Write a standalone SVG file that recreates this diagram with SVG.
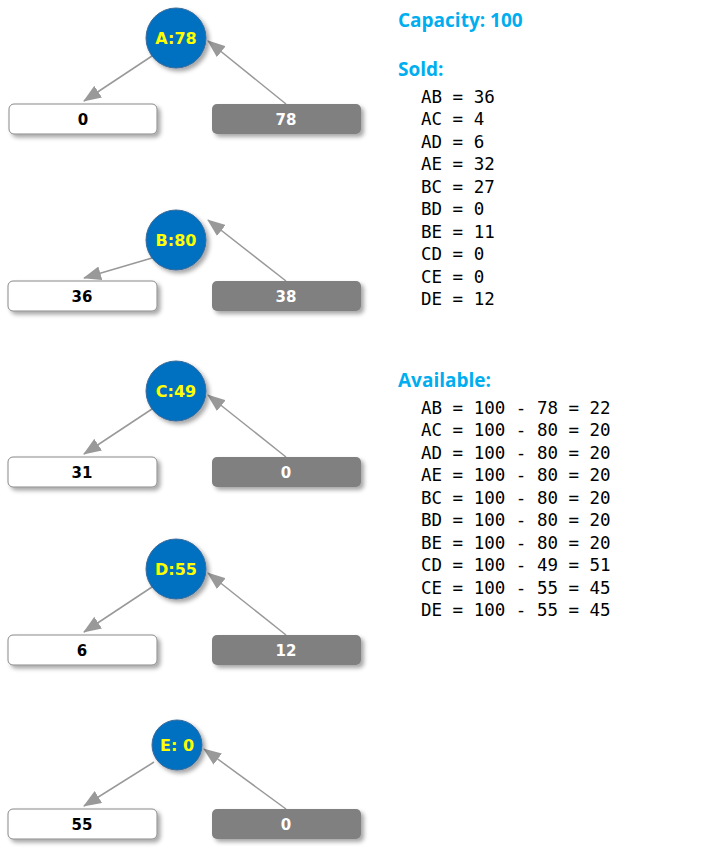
<svg xmlns="http://www.w3.org/2000/svg" width="724" height="853" viewBox="0 0 724 853">
<defs>
<filter id="sh" x="-20%" y="-20%" width="150%" height="160%"><feDropShadow dx="3" dy="3" stdDeviation="2" flood-color="#000" flood-opacity="0.35"/></filter>
<marker id="ar" markerWidth="10" markerHeight="10" refX="9" refY="5" orient="auto" markerUnits="userSpaceOnUse" viewBox="0 0 10 10"><path d="M0,0 L10,5 L0,10 z" fill="#999"/></marker>
<marker id="ab" markerWidth="18" markerHeight="14" refX="17" refY="7" orient="auto" markerUnits="userSpaceOnUse" viewBox="0 0 18 14"><path d="M0,0 L18,7 L0,14 z" fill="#999"/></marker>
</defs>
<style>
.c{fill:#0070c0;stroke:#3a6a9a;stroke-width:1;filter:url(#sh)}
.ct{font:bold 16px "DejaVu Sans",sans-serif;fill:#ffff00;text-anchor:middle}
.w{fill:#fff;stroke:#888;stroke-width:1;filter:url(#sh)}
.g{fill:#808080;filter:url(#sh)}
.bt{font:bold 15px "DejaVu Sans",sans-serif;text-anchor:middle}
.h{font:bold 19px "Open Sans","DejaVu Sans",sans-serif;fill:#00aeef}
.m{font:17.5px "DejaVu Sans Mono",monospace;fill:#000;white-space:pre}
.e{stroke:#999;stroke-width:1.5;fill:none;marker-end:url(#ab)}
</style>
<g id="connectors">
<line class="e" x1="152" y1="56" x2="84" y2="101"/><line class="e" x1="286" y1="104" x2="208" y2="41"/>
<line class="e" x1="152" y1="258" x2="84" y2="278"/><line class="e" x1="286" y1="281" x2="208" y2="220"/>
<line class="e" x1="152" y1="409" x2="84" y2="454"/><line class="e" x1="286" y1="457" x2="208" y2="395"/>
<line class="e" x1="152" y1="587" x2="84" y2="632"/><line class="e" x1="286" y1="635" x2="208" y2="573"/>
<line class="e" x1="154" y1="762" x2="84" y2="806"/><line class="e" x1="286" y1="809" x2="204" y2="749"/>
</g>
<g id="A"><circle class="c" cx="176" cy="38" r="30"/><text class="ct" x="176" y="44">A:78</text></g>
<g id="A0"><rect class="w" x="9" y="104" width="148" height="30" rx="5"/><text class="bt" x="83" y="125">0</text></g>
<g id="A1"><rect class="g" x="212" y="104" width="149" height="30" rx="5"/><text class="bt" x="286" y="125" fill="#fff">78</text></g>
<g id="B"><circle class="c" cx="176" cy="240" r="30"/><text class="ct" x="176" y="246">B:80</text></g>
<g id="B0"><rect class="w" x="8" y="281" width="149" height="30" rx="5"/><text class="bt" x="82" y="302">36</text></g>
<g id="B1"><rect class="g" x="212" y="281" width="149" height="30" rx="5"/><text class="bt" x="286" y="302" fill="#fff">38</text></g>
<g id="C"><circle class="c" cx="176" cy="391" r="30"/><text class="ct" x="176" y="397">C:49</text></g>
<g id="C0"><rect class="w" x="8" y="457" width="149" height="30" rx="5"/><text class="bt" x="82" y="478">31</text></g>
<g id="C1"><rect class="g" x="212" y="457" width="149" height="30" rx="5"/><text class="bt" x="286" y="478" fill="#fff">0</text></g>
<g id="D"><circle class="c" cx="176" cy="569" r="30"/><text class="ct" x="176" y="575">D:55</text></g>
<g id="D0"><rect class="w" x="8" y="635" width="149" height="30" rx="5"/><text class="bt" x="82" y="656">6</text></g>
<g id="D1"><rect class="g" x="212" y="635" width="149" height="30" rx="5"/><text class="bt" x="286" y="656" fill="#fff">12</text></g>
<g id="E"><circle class="c" cx="177" cy="745" r="25"/><text class="ct" x="177" y="751">E: 0</text></g>
<g id="E0"><rect class="w" x="8" y="809" width="149" height="30" rx="5"/><text class="bt" x="82" y="830">55</text></g>
<g id="E1"><rect class="g" x="212" y="809" width="149" height="30" rx="5"/><text class="bt" x="286" y="830" fill="#fff">0</text></g>
<g id="text">
<text class="h" x="398" y="27">Capacity: 100</text>
<text class="h" x="398" y="76">Sold:</text>
<text class="m" x="421" y="103">AB = 36</text>
<text class="m" x="421" y="125">AC = 4</text>
<text class="m" x="421" y="148">AD = 6</text>
<text class="m" x="421" y="170">AE = 32</text>
<text class="m" x="421" y="193">BC = 27</text>
<text class="m" x="421" y="215">BD = 0</text>
<text class="m" x="421" y="238">BE = 11</text>
<text class="m" x="421" y="260">CD = 0</text>
<text class="m" x="421" y="283">CE = 0</text>
<text class="m" x="421" y="305">DE = 12</text>
<text class="h" x="398" y="387">Available:</text>
<text class="m" x="421" y="414">AB = 100 - 78 = 22</text>
<text class="m" x="421" y="436">AC = 100 - 80 = 20</text>
<text class="m" x="421" y="459">AD = 100 - 80 = 20</text>
<text class="m" x="421" y="481">AE = 100 - 80 = 20</text>
<text class="m" x="421" y="504">BC = 100 - 80 = 20</text>
<text class="m" x="421" y="526">BD = 100 - 80 = 20</text>
<text class="m" x="421" y="549">BE = 100 - 80 = 20</text>
<text class="m" x="421" y="571">CD = 100 - 49 = 51</text>
<text class="m" x="421" y="594">CE = 100 - 55 = 45</text>
<text class="m" x="421" y="616">DE = 100 - 55 = 45</text>
</g>
</svg>
